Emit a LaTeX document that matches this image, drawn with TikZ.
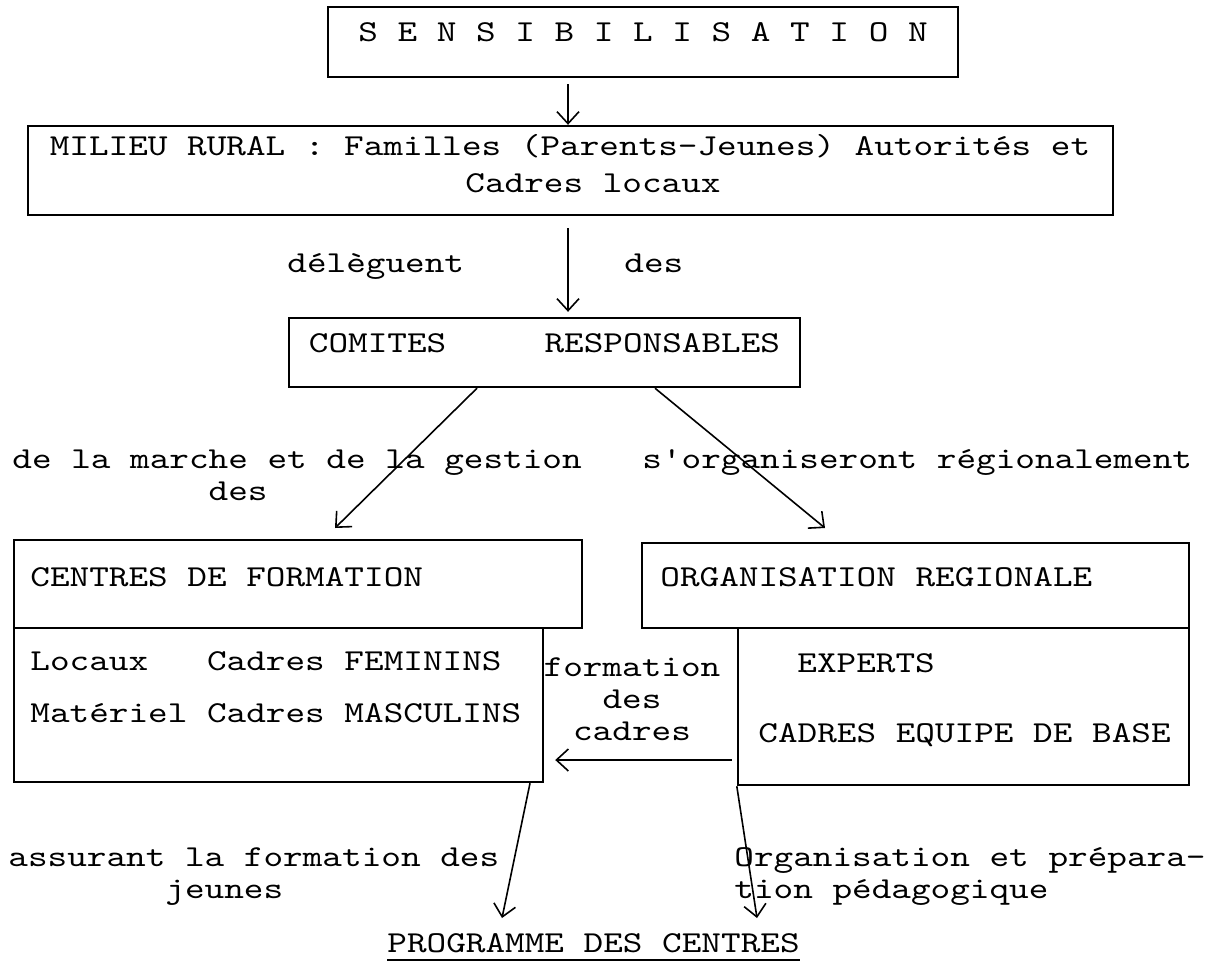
\documentclass[tikz,border=0pt]{standalone}
\usepackage{fontspec}
\newfontfamily\twfam{lmmono10-regular.otf}[FakeStretch=1.23]
\usetikzlibrary{arrows.meta,fit}
\newcommand{\tw}{\twfam\fontsize{15.2}{16}\selectfont\spaceskip=\fontdimen2\font\relax}
\begin{document}
\begin{tikzpicture}[x=0.5pt,y=-0.5pt,
  box/.style={draw, line width=1.2pt, inner sep=0pt, rectangle},
  txt/.style={font=\tw, inner sep=0pt, anchor=base west},
  arr/.style={line width=0.8pt, -{Straight Barb[length=6pt,width=11pt]}},
]
\useasboundingbox (0,0) rectangle (1225,971);
\fill[white] (0,0) rectangle (1225,971);

% boxes
\node[box, fit={(328,7) (958,77)}, font=\tw] (sens) {S E N S I B I L I S A T I O N};
\node[box, fit={(28,126) (1113,215)}] (milieu) {};
\node[box, fit={(289,318) (800,387)}, font=\tw] (comites) {COMITES~~~~~RESPONSABLES};
\node[box, fit={(14,540) (582,628)}] (centres) {};
\node[box, fit={(14,628) (543,782)}] (centresb) {};
\node[box, fit={(642,543) (1189,628)}] (orga) {};
\node[box, fit={(738,628) (1189,785)}] (orgab) {};

% box texts
\node[txt, anchor=base] (m1) at (570,155) {MILIEU RURAL : Familles (Parents-Jeunes) Autorités et};
\node[txt, anchor=base] (m2) at (593,192) {Cadres locaux};
\node[txt] (tcentres) at (30,586) {CENTRES DE FORMATION};
\node[txt] (torga) at (660,586) {ORGANISATION REGIONALE};
\node[txt] (loc) at (30,670) {Locaux~~~Cadres FEMININS};
\node[txt] (mat) at (30,722) {Matériel Cadres MASCULINS};
\node[txt] (exp) at (797,672) {EXPERTS};
\node[txt] (ceq) at (758,742) {CADRES EQUIPE DE BASE};

% labels (base anchor of a multi-line node = baseline of its last line)
\node[txt] (deleg) at (287,272) {délèguent};
\node[txt] (des1) at (624,272) {des};
\node[txt, align=left] (marche) at (12,500) {de la marche et de la gestion\\\phantom{xxxxxxxxxx}des};
\node[txt] (sorg) at (642,468) {s'organiseront régionalement};
\node[font=\tw, inner sep=0pt, align=center, anchor=base] (fdc) at (632,740) {formation\\des\\cadres};
\node[txt, align=left] (assur) at (8,898) {assurant la formation des\\\phantom{xxxxxxxx}jeunes};
\node[txt, align=left] (orgp) at (734,898) {Organisation et prépara-\\tion pédagogique};
\node[txt] (prog) at (387,952) {PROGRAMME DES CENTRES};
\draw[line width=1.2pt] ([yshift=-4pt]prog.base west) -- ([yshift=-4pt]prog.base east);

% connectors
\coordinate (ax) at (568,0);
\draw[arr, shorten <=3pt] (sens.south -| ax) -- (milieu.north -| ax);
\draw[arr, shorten <=6pt, shorten >=2.5pt] (milieu.south -| ax) -- (comites.north -| ax);
\coordinate (dl) at (477,0);
\coordinate (dr) at (655,0);
\coordinate (tl) at (335,528);
\coordinate (tr) at (825,528);
\draw[arr] (comites.south -| dl) -- (tl);
\draw[arr] (comites.south -| dr) -- (tr);
\coordinate (hy) at (0,760);
\draw[arr, shorten <=2.5pt, shorten >=5.5pt] (orgab.west |- hy) -- (centresb.east |- hy);
\coordinate (bx) at (530,0);
\coordinate (bl) at (502,918);
\coordinate (br) at (757,918);
\draw[arr] (centresb.south -| bx) -- (bl);
\draw[arr] (orgab.south west) -- (br);
\end{tikzpicture}
\end{document}
